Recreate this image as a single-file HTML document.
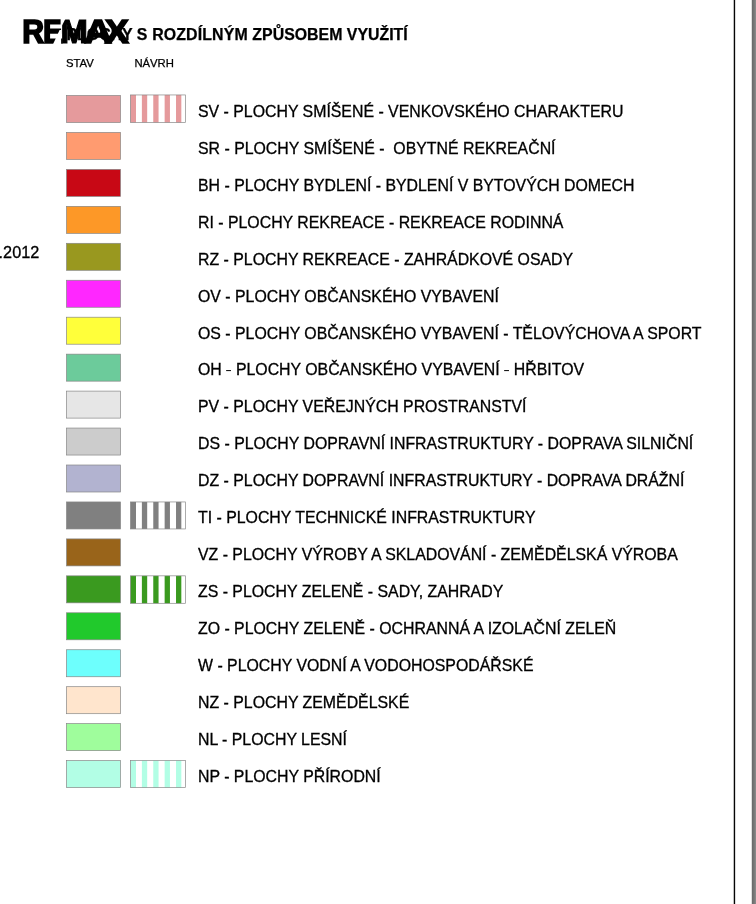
<!DOCTYPE html>
<html><head><meta charset="utf-8"><title>Legenda</title>
<style>
html,body{margin:0;padding:0;background:#fff;}
body{width:756px;height:904px;position:relative;overflow:hidden;font-family:"Liberation Sans",Arial,Helvetica,sans-serif;color:#000;}
.a{position:absolute;white-space:nowrap;}
.t{font-size:15.87px;line-height:20px;left:198px;-webkit-text-stroke:0.3px #000;}
.h{font-size:11.3px;line-height:14px;top:56px;-webkit-text-stroke:0.25px #000;}
.hy{display:inline-block;-webkit-text-stroke:0;transform:scale(1.25,0.75);}
</style></head><body>
<div class="a" style="left:733px;top:0;width:3px;height:904px;background:linear-gradient(90deg,#bdbdbd 0,#bdbdbd 1px,#050505 1px,#050505 2px,#dbdbdb 2px,#dbdbdb 3px)"></div>
<div class="a" style="left:751px;top:0;width:5px;height:904px;background:linear-gradient(90deg,#dedede 0,#dedede 1px,#6c6c6c 1px,#6c6c6c 2px,#747474 2px,#747474 3px,#7c7c7c 3px,#7c7c7c 4px,#888 4px,#888 5px)"></div>
<div class="a" style="left:66.5px;top:25.2px;font-size:15.9px;line-height:20px;font-weight:bold;-webkit-text-stroke:0.25px #000;">PLOCHY S<span style="margin-left:0.3px"> </span><span style="letter-spacing:0.13px">ROZDÍLNÝM </span>ZPŮSOBEM VYUŽITÍ</div>
<svg class="a" id="logo" style="left:0;top:0;overflow:visible" width="160" height="60" viewBox="0 0 160 60" font-family="Liberation Sans, Arial, sans-serif" font-weight="bold" font-size="32.9" fill="#000" stroke="#000" stroke-width="1.7" stroke-linejoin="miter">
<text transform="translate(22.2,42.9) scale(0.92,1)">R</text>
<text transform="translate(43.0,42.9) scale(0.91,1)">E</text>
<polygon points="52.8,44.8 59.6,30 61.1,30 61.1,44.8" fill="#fff" stroke="none"/>
<text transform="translate(60.5,42.9) scale(1.0,1)" stroke-width="1.1">M</text>
<polygon points="60.6,28.2 60.6,18.5 65.6,18.5" fill="#fff" stroke="none"/>
<text transform="translate(84.1,42.9) scale(1.19,1)" stroke-width="1.4">A</text>
<text transform="translate(105.0,42.9) scale(1.08,1)">X</text>
</svg>
<div class="a h" style="left:66px;">STAV</div>
<div class="a h" style="left:134.4px;">NÁVRH</div>
<div class="a" style="left:-1.4px;top:241.9px;font-size:16.25px;line-height:20px;-webkit-text-stroke:0.3px #000;">.2012</div>

<div class="a t" style="top:102px">SV - PLOCHY SMÍŠENÉ - VENKOVSKÉHO CHARAKTERU</div>
<div class="a t" style="top:139px">SR - PLOCHY SMÍŠENÉ - &nbsp;OBYTNÉ REKREAČNÍ</div>
<div class="a t" style="top:176px">BH - PLOCHY BYDLENÍ - BYDLENÍ V BYTOVÝCH DOMECH</div>
<div class="a t" style="top:213px">RI - PLOCHY REKREACE - REKREACE RODINNÁ</div>
<div class="a t" style="top:250px">RZ - PLOCHY REKREACE - ZAHRÁDKOVÉ OSADY</div>
<div class="a t" style="top:287px">OV - PLOCHY OBČANSKÉHO VYBAVENÍ</div>
<div class="a t" style="top:324px">OS - PLOCHY OBČANSKÉHO VYBAVENÍ - TĚLOVÝCHOVA A SPORT</div>
<div class="a t" style="top:360px">OH <span class=hy>-</span> PLOCHY OBČANSKÉHO VYBAVENÍ <span class=hy>-</span> HŘBITOV</div>
<div class="a t" style="top:397px">PV - PLOCHY VEŘEJNÝCH PROSTRANSTVÍ</div>
<div class="a t" style="top:434px">DS - PLOCHY DOPRAVNÍ INFRASTRUKTURY - DOPRAVA SILNIČNÍ</div>
<div class="a t" style="top:471px">DZ - PLOCHY DOPRAVNÍ INFRASTRUKTURY - DOPRAVA DRÁŽNÍ</div>
<div class="a t" style="top:508px">TI - PLOCHY TECHNICKÉ INFRASTRUKTURY</div>
<div class="a t" style="top:545px">VZ - PLOCHY VÝROBY A SKLADOVÁNÍ - ZEMĚDĚLSKÁ VÝROBA</div>
<div class="a t" style="top:582px">ZS - PLOCHY ZELENĚ - SADY, ZAHRADY</div>
<div class="a t" style="top:619px">ZO - PLOCHY ZELENĚ - OCHRANNÁ A IZOLAČNÍ ZELEŇ</div>
<div class="a t" style="top:656px">W - PLOCHY VODNÍ A VODOHOSPODÁŘSKÉ</div>
<div class="a t" style="top:693px">NZ - PLOCHY ZEMĚDĚLSKÉ</div>
<div class="a t" style="top:730px">NL - PLOCHY LESNÍ</div>
<div class="a t" style="top:767px">NP - PLOCHY PŘÍRODNÍ</div>
<svg class="a" style="left:0;top:0" width="756" height="904" viewBox="0 0 756 904" shape-rendering="geometricPrecision">
<rect x="66.5" y="95.50" width="54" height="27" fill="#e59a9c" stroke="#858585" stroke-width="0.68"/>
<rect x="130.5" y="94.95" width="55" height="27.5" fill="#fff"/>
<rect x="130.50" y="94.95" width="5.5" height="27.5" fill="#e59a9c"/>
<rect x="141.88" y="94.95" width="5.3" height="27.5" fill="#e59a9c"/>
<rect x="153.26" y="94.95" width="5.3" height="27.5" fill="#e59a9c"/>
<rect x="164.64" y="94.95" width="5.3" height="27.5" fill="#e59a9c"/>
<rect x="176.02" y="94.95" width="5.3" height="27.5" fill="#e59a9c"/>
<rect x="130.5" y="94.95" width="55" height="27.5" fill="none" stroke="#858585" stroke-width="0.68"/>
<rect x="66.5" y="132.45" width="54" height="27" fill="#ff9b70" stroke="#858585" stroke-width="0.68"/>
<rect x="66.5" y="169.40" width="54" height="27" fill="#c80815" stroke="#858585" stroke-width="0.68"/>
<rect x="66.5" y="206.35" width="54" height="27" fill="#fd9827" stroke="#858585" stroke-width="0.68"/>
<rect x="66.5" y="243.30" width="54" height="27" fill="#99981f" stroke="#858585" stroke-width="0.68"/>
<rect x="66.5" y="280.25" width="54" height="27" fill="#ff27ff" stroke="#858585" stroke-width="0.68"/>
<rect x="66.5" y="317.20" width="54" height="27" fill="#ffff3a" stroke="#858585" stroke-width="0.68"/>
<rect x="66.5" y="354.15" width="54" height="27" fill="#6ccb9b" stroke="#858585" stroke-width="0.68"/>
<rect x="66.5" y="391.10" width="54" height="27" fill="#e6e6e6" stroke="#858585" stroke-width="0.68"/>
<rect x="66.5" y="428.05" width="54" height="27" fill="#cccccc" stroke="#858585" stroke-width="0.68"/>
<rect x="66.5" y="465.00" width="54" height="27" fill="#b2b3d0" stroke="#858585" stroke-width="0.68"/>
<rect x="66.5" y="501.95" width="54" height="27" fill="#808080" stroke="#858585" stroke-width="0.68"/>
<rect x="130.5" y="501.95" width="55" height="27" fill="#fff"/>
<rect x="130.50" y="501.95" width="5.5" height="27" fill="#808080"/>
<rect x="141.88" y="501.95" width="5.3" height="27" fill="#808080"/>
<rect x="153.26" y="501.95" width="5.3" height="27" fill="#808080"/>
<rect x="164.64" y="501.95" width="5.3" height="27" fill="#808080"/>
<rect x="176.02" y="501.95" width="5.3" height="27" fill="#808080"/>
<rect x="130.5" y="501.95" width="55" height="27" fill="none" stroke="#858585" stroke-width="0.68"/>
<rect x="66.5" y="538.90" width="54" height="27" fill="#99641a" stroke="#858585" stroke-width="0.68"/>
<rect x="66.5" y="575.85" width="54" height="27" fill="#3a9a1f" stroke="#858585" stroke-width="0.68"/>
<rect x="130.5" y="575.85" width="55" height="27.45" fill="#fff"/>
<rect x="130.50" y="575.85" width="5.5" height="27.45" fill="#3a9a1f"/>
<rect x="141.88" y="575.85" width="5.3" height="27.45" fill="#3a9a1f"/>
<rect x="153.26" y="575.85" width="5.3" height="27.45" fill="#3a9a1f"/>
<rect x="164.64" y="575.85" width="5.3" height="27.45" fill="#3a9a1f"/>
<rect x="176.02" y="575.85" width="5.3" height="27.45" fill="#3a9a1f"/>
<rect x="130.5" y="575.85" width="55" height="27.45" fill="none" stroke="#858585" stroke-width="0.68"/>
<rect x="66.5" y="612.80" width="54" height="27" fill="#21c92c" stroke="#858585" stroke-width="0.68"/>
<rect x="66.5" y="649.75" width="54" height="27" fill="#6dfffd" stroke="#858585" stroke-width="0.68"/>
<rect x="66.5" y="686.70" width="54" height="27" fill="#ffe5cd" stroke="#858585" stroke-width="0.68"/>
<rect x="66.5" y="723.65" width="54" height="27" fill="#9ffd9c" stroke="#858585" stroke-width="0.68"/>
<rect x="66.5" y="760.60" width="54" height="27" fill="#b2fee5" stroke="#858585" stroke-width="0.68"/>
<rect x="130.5" y="760.60" width="55" height="27" fill="#fff"/>
<rect x="130.50" y="760.60" width="5.5" height="27" fill="#b2fee5"/>
<rect x="141.88" y="760.60" width="5.3" height="27" fill="#b2fee5"/>
<rect x="153.26" y="760.60" width="5.3" height="27" fill="#b2fee5"/>
<rect x="164.64" y="760.60" width="5.3" height="27" fill="#b2fee5"/>
<rect x="176.02" y="760.60" width="5.3" height="27" fill="#b2fee5"/>
<rect x="130.5" y="760.60" width="55" height="27" fill="none" stroke="#858585" stroke-width="0.68"/>
</svg>
</body></html>
